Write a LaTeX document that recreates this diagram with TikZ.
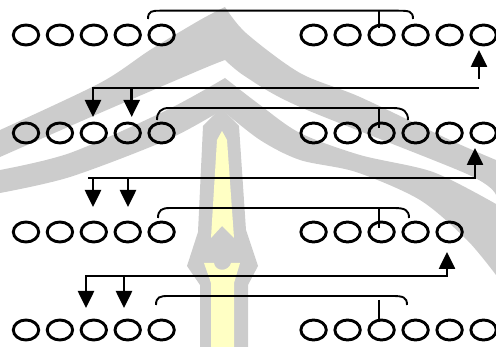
\documentclass[tikz,border=0pt]{standalone}
\usetikzlibrary{arrows.meta,shapes.geometric}
\definecolor{wmgrey}{RGB}{204,204,204}
\definecolor{wmyellow}{RGB}{255,255,196}
\begin{document}
\begin{tikzpicture}[x=1pt,y=-1pt,
  circ/.style={draw,ellipse,line width=2.9pt,minimum width=25.4pt,minimum height=20pt,inner sep=0pt},
  brk/.style={line width=1.9pt},
  tick/.style={line width=1.9pt},
  arr/.style={line width=2.6pt,-{Triangle[width=16pt,length=17pt]}},
  hline/.style={line width=2.1pt,line cap=rect}]
\useasboundingbox (0,0) rectangle (496,347);
% watermark
\fill[wmgrey] plot[smooth] coordinates {(0,130) (100,83) (150,50) (200,20) (225,7)}
  -- plot[smooth] coordinates {(225,7) (246,33) (300,73) (360,97) (450,140) (496,160)}
  -- plot[smooth] coordinates {(496,195) (467,174) (300,107) (246,77) (225,60)}
  -- plot[smooth] coordinates {(225,60) (200,70) (100,113) (0,157)} -- cycle;
\fill[wmgrey] plot[smooth] coordinates {(0,170) (70,153) (167,110) (225,78)}
  -- plot[smooth] coordinates {(225,78) (260,105) (300,133) (360,155) (433,172) (496,204)}
  -- plot[smooth] coordinates {(496,275) (467,240) (420,200) (356,172) (300,160) (260,140) (222,110)}
  -- plot[smooth] coordinates {(222,110) (167,140) (70,177) (0,193)} -- cycle;
\fill[wmgrey] (221,108) -- (239,126) -- (246,230) -- (258,266) -- (248,285) -- (248,347)
  -- (200,347) -- (200,285) -- (187,266) -- (198,232) -- (203,126) -- cycle;
\fill[wmyellow] (222,131) -- (227,140) -- (234,238) -- (222,226) -- (211,238) -- (217,140) -- cycle;
\fill[wmyellow] (204,263) -- (214,263) .. controls (215,272) and (229,272) .. (231,263) -- (240,263)
  -- (234,283) -- (234,347) -- (211,347) -- (211,283) -- cycle;
% circles
\foreach \r/\y in {1/35,2/133,3/232,4/330}{
  \foreach \i in {1,...,5}{\node[circ] (l\r\i) at ({26+33.9*(\i-1)},\y) {};}
}
\foreach \r/\y/\n in {1/35/6,2/133/6,3/232/5,4/330/6}{
  \foreach \i in {1,...,\n}{\node[circ] (r\r\i) at ({313.6+34*(\i-1)},\y) {};}
}
% brackets
\coordinate (b1a) at (148,19); \coordinate (b1c) at (160,10.7); \coordinate (b1d) at (398,10.7); \coordinate (b1b) at (413,19);
\coordinate (b2a) at (157,120); \coordinate (b2c) at (169,108); \coordinate (b2d) at (393,108); \coordinate (b2b) at (408,120);
\coordinate (b3a) at (158,218); \coordinate (b3c) at (170,208); \coordinate (b3d) at (394,208); \coordinate (b3b) at (409,218);
\coordinate (b4a) at (156,305); \coordinate (b4c) at (168,296); \coordinate (b4d) at (392,296); \coordinate (b4b) at (407,305);
\foreach \k in {1,2,3,4}{
  \draw[brk] (b\k a) .. controls +(0,-8) and +(-8,0) .. (b\k c) -- (b\k d) .. controls +(11,0) and +(0,-8) .. (b\k b);
}
\coordinate (t1a) at (379,10.7); \coordinate (t1b) at (379,28);
\coordinate (t2a) at (379,108); \coordinate (t2b) at (379,128);
\coordinate (t3a) at (379,208); \coordinate (t3b) at (379,228);
\coordinate (t4a) at (379,300); \coordinate (t4b) at (379,322);
\foreach \k in {1,2,3,4}{\draw[tick] (t\k a) -- (t\k b);}
% arrows, stage 1
\coordinate (u1s) at (479,79); \coordinate (u1e) at (479,50);
\draw[arr] (u1s) -- (u1e);
\coordinate (h1r) at (478,88); \coordinate (h1l) at (93,88); \coordinate (d1a) at (93,117);
\coordinate (h1m) at (131.7,88); \coordinate (d1b) at (131.7,117);
\draw[hline] (h1r) -- (h1l);
\draw[arr] (h1l) -- (d1a);
\draw[arr] (h1m) -- (d1b);
% arrows, stage 2
\coordinate (u2s) at (475,179); \coordinate (u2e) at (475,148);
\draw[arr] (u2s) -- (u2e);
\coordinate (h2r) at (474,178); \coordinate (h2l) at (89,178);
\draw[hline] (h2r) -- (h2l);
\coordinate (h2a) at (93,178); \coordinate (d2a) at (93,207);
\coordinate (h2b) at (128,178); \coordinate (d2b) at (128,207);
\draw[arr] (h2a) -- (d2a);
\draw[arr] (h2b) -- (d2b);
% arrows, stage 3
\coordinate (h3r) at (447,276); \coordinate (u3e) at (447,252);
\draw[arr] (h3r) -- (u3e);
\coordinate (h3l) at (86,276); \coordinate (d3a) at (86,308);
\coordinate (h3m) at (124,276); \coordinate (d3b) at (124,308);
\draw[hline] (h3r) -- (h3l);
\draw[arr] (h3l) -- (d3a);
\draw[arr] (h3m) -- (d3b);
\end{tikzpicture}
\end{document}
